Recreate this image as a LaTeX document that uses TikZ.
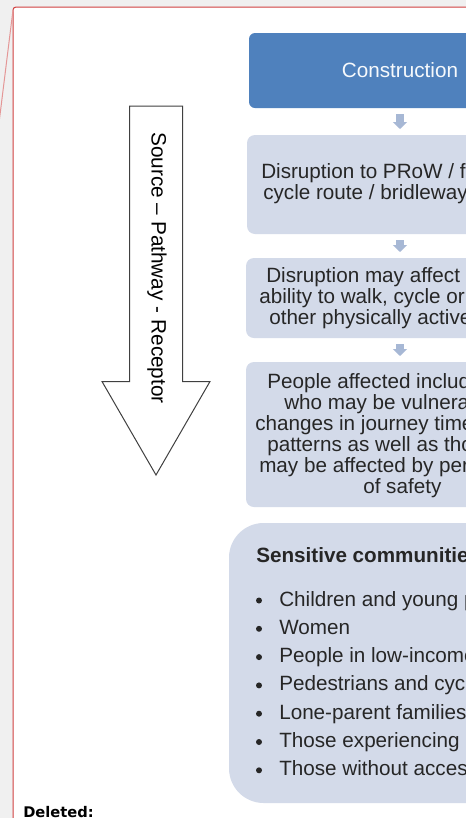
\documentclass[tikz,border=0pt]{standalone}
\usepackage{fontspec}
\setmainfont{Liberation Sans}
\newfontfamily\delfont{DejaVu Sans}
\usetikzlibrary{shapes.arrows, arrows.meta, positioning}

\definecolor{pagegray}{RGB}{240,240,240}
\definecolor{balloonred}{RGB}{208,64,64}
\definecolor{balloonpink}{RGB}{228,150,150}
\definecolor{conblue}{RGB}{79,129,189}
\definecolor{boxfill}{RGB}{211,218,233}
\definecolor{flowblue}{RGB}{167,184,213}
\definecolor{textgray}{RGB}{38,38,38}
\definecolor{arrowgray}{RGB}{64,64,64}

\tikzset{
  stagebox/.style={rectangle, rounded corners=6pt, fill=boxfill, inner sep=0pt,
                   outer sep=0pt, anchor=north west},
  topbox/.style={stagebox, fill=conblue, rounded corners=4.5pt},
  flow/.style={draw=flowblue, line width=6pt, -{Triangle[width=10.5pt,length=5.25pt]},
               shorten <=4.5pt, shorten >=4.5pt},
  txt/.style={anchor=base west, inner sep=0pt, text=textgray,
              font=\fontsize{15.5}{18}\selectfont},
  bigarrow/.style={single arrow, draw=arrowgray, fill=white, line width=0.75pt,
                   inner sep=19.5pt, single arrow head extend=20.6pt,
                   single arrow tip angle=60, minimum height=276.75pt, rotate=-90}
}

\begin{document}
\begin{tikzpicture}[x=0.75pt, y=-0.75pt]
  \useasboundingbox (0,0) rectangle (466,818);
  \clip (0,0) rectangle (466,818);
  \fill[pagegray] (0,0) rectangle (466,818);

  % comment balloon
  \draw[balloonred, fill=white, line width=0.75pt, rounded corners=2.25pt]
    (13,830) -- (13,7) -- (480,7) -- (480,830) -- cycle;
  \coordinate (pin) at (13,10);
  \coordinate (offpage) at (-2,131);
  \draw[balloonpink, line width=0.75pt] (pin) -- (offpage);

  % source - pathway - receptor arrow
  \node[bigarrow, anchor=tip] (spr) at (156,476) {};
  \node[rotate=-90, inner sep=0pt, font=\fontsize{15.6}{18}\selectfont] (sprtxt)
    at (157,268) {Source – Pathway - Receptor};

  % stages
  \node[topbox, minimum width=226.5pt, minimum height=56.25pt] (con) at (249,33) {};
  \node[stagebox, minimum width=229.5pt, minimum height=74.25pt] (dis) at (247,135) {};
  \node[stagebox, minimum width=231pt, minimum height=60pt] (aff) at (246,258) {};
  \node[stagebox, minimum width=231pt, minimum height=108.75pt] (ppl) at (246,362) {};
  \node[stagebox, rounded corners=26pt, minimum width=300pt, minimum height=210pt]
    (sens) at (229,523) {};

  \draw[flow] (con.south) -- (dis.north);
  \draw[flow] (dis.south) -- (aff.north);
  \draw[flow] (aff.south) -- (ppl.north);

  % stage texts
  \node[txt, anchor=base, text=white!95!conblue] (contxt) at (400,77) {Construction};
  \foreach \x/\y/\t [count=\i] in {261/178/{Disruption to PRoW / f},
                                   263/199/{cycle route / bridleway}}
    \node[txt] (dis-\i) at (\x,\y) {\t};
  \foreach \x/\y/\t [count=\i] in {266/282/{Disruption may affect p},
                                   259/303/{ability to walk, cycle or},
                                   269/324/{other physically active}}
    \node[txt] (aff-\i) at (\x,\y) {\t};
  \foreach \x/\y/\t [count=\i] in {267/388/{People affected includ},
                                   284/409/{who may be vulnera},
                                   255/430/{changes in journey time},
                                   267/451/{patterns as well as tho},
                                   259/472/{may be affected by per},
                                   363/493/{of safety}}
    \node[txt] (ppl-\i) at (\x,\y) {\t};

  % sensitive communities
  \node[txt, font=\fontsize{15.5}{18}\selectfont\bfseries] (senstitle) at (256,562)
    {Sensitive communitie};
  \foreach \t [count=\i] in {Children and young p, Women, People in low-income,
                             Pedestrians and cyc, Lone-parent families,
                             Those experiencing, Those without acces} {
    \node[circle, fill=textgray, inner sep=0pt, minimum size=4.5pt] (dot-\i)
      at (259, {600.5+28.3*(\i-1)}) {};
    \node[txt] (sens-\i) at (279, {606+28.3*(\i-1)}) {\t};
  }

  \node[anchor=base west, inner sep=0pt, font=\delfont\bfseries\fontsize{11}{13}\selectfont]
    (del) at (23,817) {Deleted:};
\end{tikzpicture}
\end{document}
